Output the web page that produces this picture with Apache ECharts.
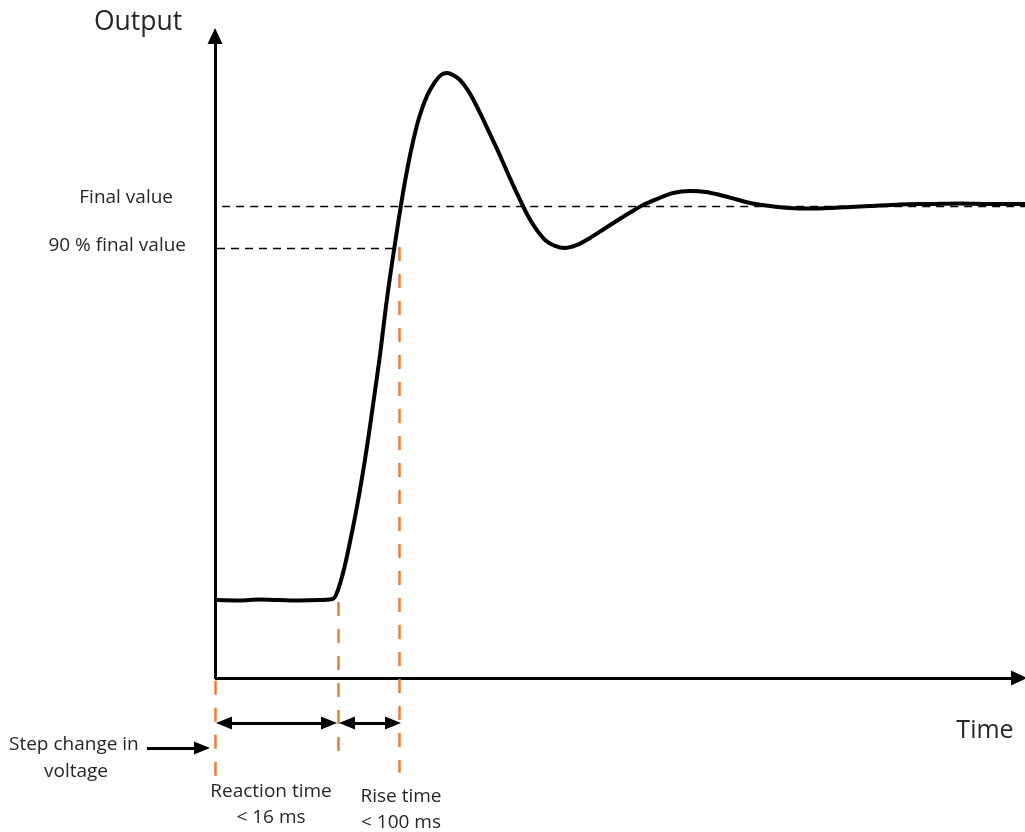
<!DOCTYPE html>
<html>
<head>
<meta charset="utf-8">
<script src="https://cdn.jsdelivr.net/npm/echarts@6/dist/echarts.min.js"></script>
<style>
  html, body { margin: 0; padding: 0; background: #ffffff; }
  #chart { width: 1025px; height: 832px; }
</style>
</head>
<body>
<div id="chart"></div>
<script>
// step response, time in ms-ish units, output in % of final value
const time = [0.25, 3.1, 5.6, 8.1, 10.6, 13.1, 14.75, 15.125, 15.625, 16.25, 16.875, 17.625, 18.375, 19.125, 19.875,
  20.625, 21.375, 22, 22.625, 23.25, 23.875, 24.625, 25.5, 26.5, 27.5, 28.25, 29, 29.75, 30.625, 31.5, 32.375,
  33.25, 34.25, 35.25, 36.25, 37.25, 38.25, 39.125, 40.125, 41.25, 42.5, 43.75, 45.25, 46.875, 48.625, 50.375,
  52, 53.5, 55.25, 57.25, 59.375, 61.375, 63.125, 65, 66.875, 69.375, 71.875, 74.375, 76.875, 79.375, 81.875,
  85.625, 89.375, 93.125, 96.875, 101.25];
const output = [16.5, 16.4, 16.6, 16.5, 16.4, 16.5, 16.74, 17.58, 19.92, 23.94, 28.81, 35.17, 42.37, 50.42, 59.32,
  68.43, 78.81, 86.44, 93.43, 100.21, 106.36, 112.71, 118.64, 123.31, 126.27, 127.75, 128.18, 127.75, 126.69, 124.79, 122.25,
  119.28, 115.68, 112.08, 108.26, 104.45, 100.85, 97.88, 95.13, 92.8, 91.53, 91.1, 91.74, 93.22, 95.13, 97.03,
  98.73, 100.21, 101.48, 102.75, 103.18, 102.97, 102.33, 101.48, 100.64, 100.0, 99.58, 99.47, 99.58, 99.79, 100.0,
  100.32, 100.42, 100.53, 100.42, 100.42];

const finalValue = 100;
const ninetyValue = 91;
const baseLevel = 16.5;
const reactionEnd = 15.375; // < 16 ms
const riseEnd = 23.06;     // < 100 ms
const axisTop = 136;
const axisRight = 100.5;
const arrowRow = -9.53;
const stepRow = -14.83;

const chart = echarts.init(document.getElementById('chart'));
const font = '"Open Sans", "Noto Sans", sans-serif';
const txt = (text, x, y, size, align) => ({
  type: 'text',
  x: x,
  y: y,
  style: {
    text: text,
    fill: '#262626',
    font: size + 'px ' + font,
    textAlign: align || 'center',
    textVerticalAlign: 'middle',
  },
});

const option = {
  animation: false,
  grid: { left: 15, right: 0, top: 3, bottom: 3 },
  xAxis: { type: 'value', min: -25, max: 101.25, show: false },
  yAxis: { type: 'value', min: -32, max: 143, show: false },
  graphic: [
    txt('Output', 138, 22, 26.5),
    txt('Final value', 173, 198, 19, 'right'),
    txt('90 % final value', 186, 246, 19, 'right'),
    txt('Time', 985, 731, 25),
    txt('Step change in', 9, 745, 19, 'left'),
    txt('voltage', 76, 772, 19),
    txt('Reaction time', 271, 792, 19),
    txt('< 16 ms', 271, 818, 19),
    txt('Rise time', 401, 797, 19),
    txt('< 100 ms', 401, 823, 19),
  ],
  series: [
    {
      // axes with arrow heads, and the step input arrow
      type: 'line',
      data: [],
      markLine: {
        silent: true,
        symbol: ['none', 'triangle'],
        symbolSize: [15, 16],
        label: { show: false },
        lineStyle: { color: '#000', width: 3, type: 'solid' },
        data: [
          [{ coord: [0, -0.2] }, { coord: [0, axisTop] }],
          [{ coord: [0, 0] }, { coord: [axisRight, 0] }],
          [{ coord: [-8.5, stepRow], symbolSize: [13, 16] }, { coord: [-1.625, stepRow], symbolSize: [13, 16] }],
        ],
      },
    },
    {
      // black dashed guides
      type: 'line',
      data: [],
      markLine: {
        silent: true,
        symbol: ['none', 'none'],
        label: { show: false },
        lineStyle: { color: '#000', width: 1.4, type: [8, 6] },
        data: [
          [{ coord: [0.9, finalValue] }, { coord: [101.25, finalValue] }],
          [{ coord: [0.25, ninetyValue] }, { coord: [riseEnd - 0.3, ninetyValue] }],
        ],
      },
    },
    {
      // orange time markers
      type: 'line',
      data: [],
      markLine: {
        silent: true,
        symbol: ['none', 'none'],
        label: { show: false },
        lineStyle: { color: '#ED7D31', width: 2.5, type: [14, 13] },
        data: [
          [{ coord: [0, -0.6] }, { coord: [0, -21.2] }],
          [{ coord: [reactionEnd, baseLevel - 0.4] }, { coord: [reactionEnd, -18] }],
          [{ coord: [riseEnd, ninetyValue + 0.3] }, { coord: [riseEnd, -20.1] }],
        ],
      },
    },
    {
      // reaction and rise time spans
      type: 'line',
      data: [],
      markLine: {
        silent: true,
        symbol: ['triangle', 'triangle'],
        symbolSize: [13, 16],
        label: { show: false },
        lineStyle: { color: '#000', width: 3, type: 'solid' },
        data: [
          [{ coord: [1.125, arrowRow] }, { coord: [14.25, arrowRow] }],
          [{ coord: [16.5, arrowRow] }, { coord: [22.25, arrowRow] }],
        ],
      },
    },
    {
      name: 'Output',
      type: 'line',
      data: time.map((t, i) => [t, output[i]]),
      showSymbol: false,
      smooth: 0.3,
      clip: false,
      lineStyle: { color: '#000', width: 4 },
      z: 5,
    },
  ],
};

chart.setOption(option);
</script>
</body>
</html>
